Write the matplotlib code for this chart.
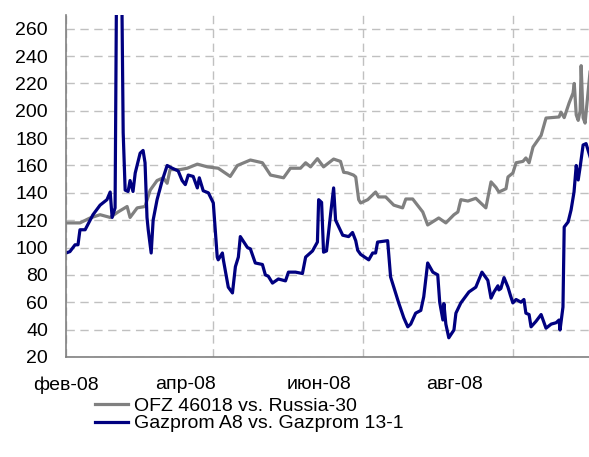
import numpy as np
import matplotlib
matplotlib.use("Agg")
import matplotlib.pyplot as plt
import matplotlib.dates as mdates
from datetime import datetime

plt.rcParams['font.family'] = ['Liberation Sans', 'DejaVu Sans']

# days counted from 1 Feb 2008
ofz_days = [0, 5.7, 9.8, 13.9, 18, 21.2, 24.9, 26.1, 29, 32.2, 34.3, 37.1, 39.6, 41.2,
            42.4, 46.5, 49.4, 53.5, 57.6, 62, 66.9, 69.8, 75.1, 80, 83.3, 88.6, 91.4,
            95.5, 97.6, 99.6, 102.4, 104.9, 109, 111.8, 113.1, 114.7, 117.1, 118,
            119.2, 120, 122.9, 126.1, 127.3, 130.2, 133.5, 137.1, 138.4, 141.2, 143.7,
            145.3, 147.3, 151.8, 154.7, 158, 159.6, 160.8, 163.7, 166.9, 171, 173.1,
            175.1, 176.3, 179.2, 180, 182, 183.3, 186.1, 187.3, 188.6, 190.2, 193.5,
            195.5, 197.6, 200.8, 201.6, 202.9, 204.9, 206.5, 207, 207.8, 208.6, 209.4,
            209.8, 210.6, 211.4, 212.7, 213.5]
ofz_vals = [118, 118, 121.6, 124, 122, 126, 130, 122, 129, 130, 142, 149, 151, 147,
            157, 157, 158, 161, 159, 158, 152, 160, 164, 162, 153, 151, 158,
            158, 162, 159, 165, 159, 164.7, 163, 155, 154.6, 153, 151.6,
            135, 132.6, 135, 140.6, 137, 137, 131, 129, 135.5, 135.5, 129.7,
            126, 116.5, 121.6, 118, 124, 126, 135, 134, 136, 129, 148,
            144, 140.6, 143, 151.6, 154.5, 162, 163, 165.5, 162, 173.5, 182,
            194.7, 195, 195.5, 199, 195, 205.7, 213, 220, 197, 193, 200,
            233, 195, 191, 215, 230]

gaz_days = [0, 1.6, 3.7, 4.9, 5.7, 7.8, 11, 13.9, 16.7, 18, 18.8, 20, 20.8, 22.4,
            23.3, 24.1, 25.3, 26.1, 27.3, 28.2, 30.2, 31.4, 32.2, 33, 33.5, 34.7,
            35.5, 37.1, 39.2, 41.2, 43.3, 45.7, 47.3, 48.6, 49.8, 51.8, 53.5, 54.3,
            55.9, 58, 58.8, 60, 61.6, 62, 63.7, 64.1, 66.1, 67.8, 69, 70.2, 71, 73.9,
            75.1, 77.1, 80, 81.2, 82.4, 84.1, 86.5, 89.4, 90.6, 93.5, 96.3, 97.6,
            100.4, 102.4, 102.9, 104.1, 104.9, 106.1, 107.8, 109, 109.8, 112.7, 115.1,
            116.7, 118, 118.8, 120, 123.3, 124.9, 126.1, 126.9, 131, 132.2, 133.5,
            135.5, 137.6, 139.2, 140.4, 142.4, 144.5, 145.7, 147.3, 149.4, 151.4,
            152.2, 153.5, 153.9, 154.7, 155.9, 158, 158.8, 160.8, 164.1, 166.9, 169.4,
            171.8, 173.1, 174.3, 175.9, 176.3, 177.1, 178.4, 180, 181, 182, 183.3,
            185.3, 186.5, 187.3, 188.6, 189.4, 191.4, 193.5, 195.5, 197.6, 199.6,
            200.8, 201.2, 202.4, 202.9, 204.5, 205.7, 206.9, 207.8, 208.6, 209.4,
            210.6, 211.8, 213.5]
gaz_vals = [96, 97, 102, 102, 113, 113, 124, 131, 135, 140.6, 122, 129, 350, 350,
            184, 142, 141, 149, 141, 154.5, 169, 171, 162, 122, 113, 96,
            120, 135, 149, 160, 158, 156, 149, 146, 153, 152, 143.6, 151,
            141.5, 140, 137, 132.6, 93, 91, 96, 91, 71, 66.8, 86, 93, 108, 100,
            99, 88.7, 87.6, 80, 79, 74, 77, 75.6, 82, 82, 81, 93,
            97.5, 104, 135, 133, 96.6, 97.5, 125, 143.6, 120, 109, 108,
            111, 105, 98, 95, 91, 96, 96, 104, 105, 78.5, 71,
            59.5, 48.5, 42, 44, 52, 54, 64, 88.7, 82, 80,
            60, 47, 59, 44, 34, 39.7, 52, 59.5, 67.5, 71, 82,
            76, 63, 67.5, 72, 69, 70, 78, 71, 65, 59.5, 62,
            60, 62, 52, 51, 42, 46, 51, 41, 44, 45,
            47, 39.7, 56.5, 115, 118.7, 127.5, 140.6, 160, 149.4, 159,
            175, 176, 166]

series_names = ['OFZ 46018 vs. Russia-30', 'Gazprom A8 vs. Gazprom 13-1']
month_labels = ['фев-08', 'апр-08', 'июн-08', 'авг-08']
label_days = [0, 48.8, 103, 158.4]

start = mdates.date2num(datetime(2008, 2, 1))
end = mdates.date2num(datetime(2008, 9, 1))

fig = plt.figure(figsize=(5.89, 4.57), dpi=100)
ax = fig.add_axes([0.112, 0.219, 0.888, 0.748])

ax.plot(start + np.array(ofz_days), ofz_vals, color='#808080', lw=2.3,
        label=series_names[0], solid_joinstyle='round')
ax.plot(start + np.array(gaz_days), gaz_vals, color='#000080', lw=2.3,
        label=series_names[1], solid_joinstyle='round')

months = [datetime(2008, m, 1) for m in (2, 4, 6, 8)]
ax.xaxis.remove_overlapping_locs = False
ax.set_xticks(mdates.date2num(months))
ax.set_xticklabels([])
ax.set_xticks(start + np.array(label_days), minor=True)
ax.set_xticklabels(month_labels, minor=True)
ax.tick_params(axis='x', which='both', length=0, pad=14, labelsize=14)
ax.tick_params(axis='y', length=0, pad=13, labelsize=14)

ax.set_yticks(np.arange(20, 261, 20))
ax.set_xlim(start, end)
ax.set_ylim(20, 270)

ax.grid(True, which='major', color='#c0c0c0', linestyle=(0, (6, 4)), lw=1)
ax.set_axisbelow(True)
for s in ('top', 'right'):
    ax.spines[s].set_visible(False)
for s in ('left', 'bottom'):
    ax.spines[s].set_color('#808080')
    ax.spines[s].set_linewidth(1.2)

fig.legend(loc='upper left', bbox_to_anchor=(0.161, 0.131), frameon=False,
           fontsize=14, handlelength=1.7, handletextpad=0.3, labelspacing=0.0,
           borderaxespad=0, borderpad=0)

fig.savefig('out.png', dpi=100)
